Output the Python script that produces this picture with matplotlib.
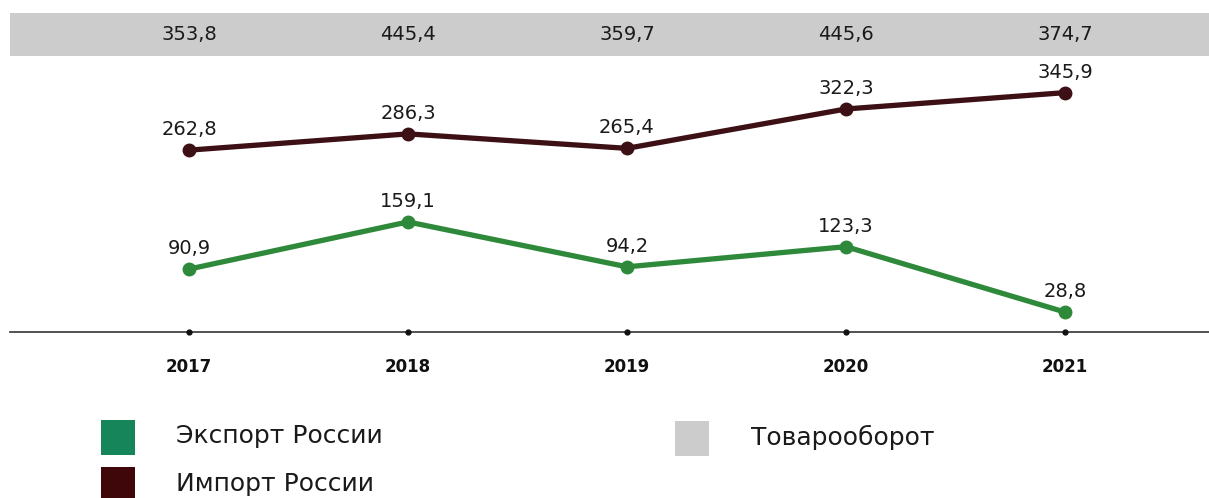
import matplotlib
matplotlib.use("Agg")
import matplotlib.pyplot as plt
import matplotlib.transforms as mtransforms
from matplotlib.patches import Rectangle

years = ["2017", "2018", "2019", "2020", "2021"]
export_vals = [90.9, 159.1, 94.2, 123.3, 28.8]
import_vals = [262.8, 286.3, 265.4, 322.3, 345.9]
turnover_vals = [353.8, 445.4, 359.7, 445.6, 374.7]
legend_labels = ["Экспорт России", "Импорт России", "Товарооборот"]

W, H = 1209, 498
fig = plt.figure(figsize=(W / 100, H / 100), dpi=100)
plt.rcParams['font.family'] = ['DejaVu Sans']

def fx(px):
    return px / W

def fy(py):
    return 1 - py / H

ax_left, ax_right, ax_top, ax_bottom = 10, 1209, 13, 332
ax = fig.add_axes([fx(ax_left), fy(ax_bottom), fx(ax_right - ax_left), (ax_bottom - ax_top) / H])
for s in ax.spines.values():
    s.set_visible(False)
ax.set_xticks([])
ax.set_yticks([])

x = list(range(len(years)))
step = 219.0
ax.set_xlim(-(189 - ax_left) / step, 4 + (ax_right - 1065) / step)
ax.set_ylim(0, 461)

green_line = "#2e8a3a"
green_leg = "#17855a"
dark_line = "#3c1014"
dark_leg = "#3f070a"
gray = "#cccccc"
txt = "#1a1a1a"

def fmt(v):
    return f"{v:.1f}".replace(".", ",")

# gray band
band_h = (56 - 13) / (ax_bottom - ax_top)
ax.add_patch(Rectangle((0, 1 - band_h), 1, band_h, transform=ax.transAxes,
                       facecolor=gray, edgecolor="none", zorder=0))
for xi, v in zip(x, turnover_vals):
    ax.text(xi, 1 - band_h / 2, fmt(v), transform=ax.get_xaxis_transform(),
            ha="center", va="center", fontsize=14, color=txt)

# axis line with tick dots
ax.axhline(0, color="#444444", lw=1.3, zorder=1, clip_on=False)
ax.plot(x, [0] * len(x), "o", color="#111111", ms=3.5, zorder=2, clip_on=False)

ax.plot(x, import_vals, color=dark_line, lw=3.8, marker="o", ms=9,
        solid_capstyle="round", zorder=3, clip_on=False)
ax.plot(x, export_vals, color=green_line, lw=3.8, marker="o", ms=9,
        solid_capstyle="round", zorder=3, clip_on=False)

for vals in (import_vals, export_vals):
    for xi, v in zip(x, vals):
        ax.annotate(fmt(v), (xi, v), xytext=(0, 8), textcoords="offset points",
                    ha="center", va="bottom", fontsize=14, color=txt)

year_tr = mtransforms.blended_transform_factory(ax.transData, fig.transFigure)
for xi, yr in zip(x, years):
    ax.text(xi, fy(367), yr, transform=year_tr, ha="center", va="center",
            fontsize=12, fontweight="heavy", color="#111111")

# legend
def leg_square(x0, y0, x1, y1, color):
    fig.patches.append(Rectangle((fx(x0), fy(y1)), fx(x1 - x0), (y1 - y0) / H,
                                 transform=fig.transFigure, facecolor=color,
                                 edgecolor="none", figure=fig))

leg_square(101, 420, 135, 455, green_leg)
leg_square(101, 467, 135, 502, dark_leg)
leg_square(675, 421, 709, 456, gray)
fig.text(fx(176), fy(436), legend_labels[0], ha="left", va="center", fontsize=18, color=txt)
fig.text(fx(176), fy(484), legend_labels[1], ha="left", va="center", fontsize=18, color=txt)
fig.text(fx(751), fy(437), legend_labels[2], ha="left", va="center", fontsize=18, color=txt)

fig.savefig("out.png", dpi=100)
